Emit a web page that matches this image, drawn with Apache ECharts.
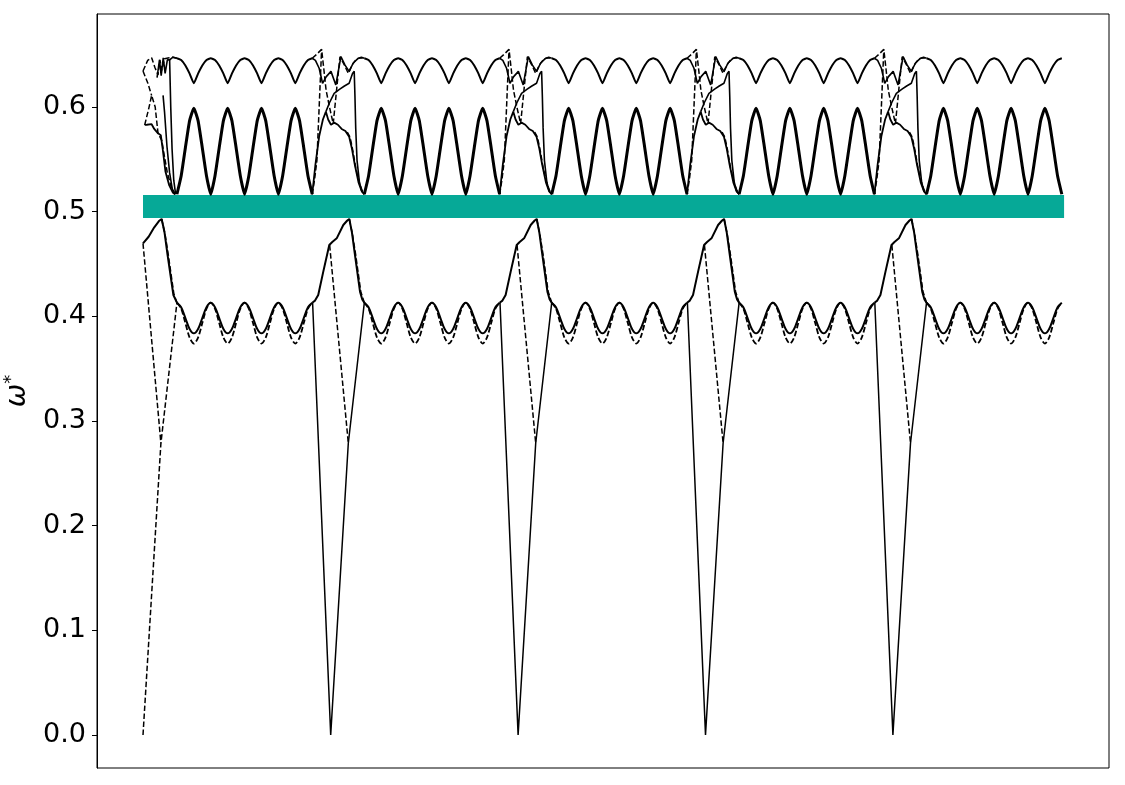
<!DOCTYPE html>
<html>
<head>
<meta charset="utf-8">
<script src="https://cdn.jsdelivr.net/npm/echarts@6/dist/echarts.min.js"></script>
<style>
html, body { margin: 0; padding: 0; background: #fff; }
#chart { width: 1125px; height: 785px; }
</style>
</head>
<body>
<div id="chart"></div>
<script>
// y ticks
var tickValues = [0.0, 0.1, 0.2, 0.3, 0.4, 0.5, 0.6];

// period starts (x in units of one cell)
var periods = [0, 1, 2, 3, 4];
var jumpPeriods = [1, 2, 3, 4];

// oscillating part of every cell, sampled every 1/8 ripple from u = 0.181
var oscStart = 0.181;
var oscStep = 0.02256;
var upperWave = [0.6465, 0.6448, 0.6396, 0.6318, 0.6226, 0.6318, 0.6396, 0.6448,
	0.6465, 0.6448, 0.6396, 0.6318, 0.6226, 0.6318, 0.6396, 0.6448,
	0.6465, 0.6448, 0.6396, 0.6318, 0.6226, 0.6318, 0.6396, 0.6448,
	0.6465, 0.6448, 0.6396, 0.6318, 0.6226, 0.6318, 0.6396, 0.6448,
	0.6465];
var middleWave = [0.5166, 0.5340, 0.5610, 0.5870, 0.5987, 0.5870, 0.5610, 0.5340,
	0.5166, 0.5340, 0.5610, 0.5870, 0.5987, 0.5870, 0.5610, 0.5340,
	0.5166, 0.5340, 0.5610, 0.5870, 0.5987, 0.5870, 0.5610, 0.5340,
	0.5166, 0.5340, 0.5610, 0.5870, 0.5987, 0.5870, 0.5610, 0.5340,
	0.5166];
var lowerSolidWave = [0.4130, 0.4087, 0.3983, 0.3879, 0.3837, 0.3879, 0.3983, 0.4087,
	0.4130, 0.4087, 0.3983, 0.3879, 0.3837, 0.3879, 0.3983, 0.4087,
	0.4130, 0.4087, 0.3983, 0.3879, 0.3837, 0.3879, 0.3983, 0.4087,
	0.4130, 0.4087, 0.3983, 0.3879, 0.3837, 0.3879, 0.3983, 0.4087,
	0.4130];
var lowerDashWave = [0.4130, 0.4073, 0.3935, 0.3797, 0.3740, 0.3797, 0.3935, 0.4073,
	0.4130, 0.4073, 0.3935, 0.3797, 0.3740, 0.3797, 0.3935, 0.4073,
	0.4130, 0.4073, 0.3935, 0.3797, 0.3740, 0.3797, 0.3935, 0.4073,
	0.4130, 0.4073, 0.3935, 0.3797, 0.3740, 0.3797, 0.3935, 0.4073,
	0.4130];

// cell boundary (cells 2..5), [u, omega] relative to the cell start
var jumpUpperSolid = [[-0.097, 0.6465], [-0.08, 0.6445], [-0.06, 0.637], [-0.042, 0.6226], [-0.022, 0.629],
	[0.003, 0.634], [0.029, 0.621], [0.056, 0.648], [0.078, 0.640], [0.100, 0.634], [0.122, 0.642],
	[0.145, 0.646], [0.165, 0.6475], [0.181, 0.6465]];
var jumpMiddleSolid = [[-0.097, 0.5166], [-0.08, 0.545], [-0.06, 0.572], [-0.04, 0.588], [-0.024, 0.5955],
	[-0.012, 0.588], [0.003, 0.583], [0.02, 0.585], [0.04, 0.583], [0.06, 0.579], [0.08, 0.577],
	[0.10, 0.5716], [0.115, 0.560], [0.13, 0.545], [0.15, 0.528], [0.166, 0.520], [0.181, 0.5166]];
var jumpCrossSolid = [[-0.024, 0.5955], [-0.005, 0.604], [0.02, 0.613], [0.05, 0.617], [0.075, 0.620],
	[0.10, 0.6226], [0.118, 0.632], [0.127, 0.634], [0.131, 0.610], [0.135, 0.580], [0.142, 0.549],
	[0.155, 0.528], [0.168, 0.519], [0.181, 0.5166]];
var jumpRiseDash = [[-0.097, 0.5166], [-0.085, 0.530], [-0.072, 0.549], [-0.047, 0.655]];
var jumpUpperDash = [[-0.097, 0.6465], [-0.075, 0.650], [-0.047, 0.655], [-0.035, 0.636], [-0.023, 0.616],
	[-0.005, 0.600], [0.015, 0.584], [0.035, 0.620], [0.051, 0.648], [0.075, 0.640], [0.0955, 0.632],
	[0.115, 0.640], [0.14, 0.646], [0.16, 0.647], [0.181, 0.6465]];
var jumpMiddleDash = [[0.09, 0.576], [0.105, 0.571], [0.12, 0.558], [0.135, 0.542], [0.155, 0.527],
	[0.17, 0.520], [0.181, 0.5166]];
var jumpSpikeSolid = [[-0.095, 0.413], [0.0016, 0.0], [0.0955, 0.2787], [0.181, 0.413]];
var jumpHumpSolid = [[-0.097, 0.413], [-0.082, 0.415], [-0.065, 0.4204], [-0.038, 0.4427], [-0.006, 0.4681],
	[0.01, 0.471], [0.0336, 0.4745], [0.0688, 0.4872], [0.09, 0.4915], [0.1009, 0.493], [0.115, 0.480],
	[0.131, 0.4586], [0.158, 0.4236], [0.17, 0.416], [0.181, 0.413]];
var jumpFallDash = [[-0.004, 0.468], [0.0955, 0.2787]];
var jumpHumpDash = [[0.1009, 0.493], [0.118, 0.478], [0.135, 0.4586], [0.162, 0.4236], [0.181, 0.413]];

// first cell start
var startZeroDash = [[0.0, 0.0], [0.0955, 0.2787], [0.181, 0.413]];
var startFallDash = [[0.0, 0.4697], [0.0955, 0.2787]];
var startHumpSolid = [[0.0, 0.4697], [0.03, 0.476], [0.06, 0.485], [0.085, 0.491], [0.0995, 0.493],
	[0.115, 0.480], [0.131, 0.4586], [0.162, 0.4204], [0.181, 0.413]];
var startHumpDash = [[0.0995, 0.493], [0.118, 0.478], [0.135, 0.4586], [0.165, 0.421], [0.181, 0.413]];
var startMiddleSolid = [[0.009, 0.5828], [0.02, 0.583], [0.046, 0.5835], [0.06, 0.579], [0.08, 0.5748],
	[0.095, 0.573], [0.105, 0.560], [0.12, 0.538], [0.14, 0.525], [0.16, 0.518], [0.172, 0.5166]];
var startMiddleDash = [[0.009, 0.5828], [0.03, 0.598], [0.046, 0.611], [0.065, 0.600], [0.08, 0.575],
	[0.10, 0.568], [0.115, 0.552], [0.13, 0.537], [0.15, 0.524], [0.172, 0.5166]];
var startUpperDash = [[0.0, 0.6343], [0.025, 0.6445], [0.046, 0.647], [0.063, 0.638], [0.08, 0.6306],
	[0.09, 0.645], [0.10, 0.635], [0.115, 0.646], [0.14, 0.647], [0.16, 0.6475], [0.181, 0.6465]];
var startDiamondDash = [[0.0, 0.6343], [0.026, 0.6226], [0.046, 0.611]];
var startUpperSolid = [[0.075, 0.628], [0.088, 0.645], [0.097, 0.630], [0.108, 0.647], [0.118, 0.632],
	[0.13, 0.645], [0.142, 0.645], [0.16, 0.6475], [0.181, 0.6465]];
var startSteepSolid = [[0.107, 0.611], [0.115, 0.595], [0.128, 0.562], [0.142, 0.537], [0.156, 0.522],
	[0.169, 0.5166]];
var startDropSolid = [[0.142, 0.645], [0.148, 0.600], [0.155, 0.560], [0.164, 0.530], [0.174, 0.5166]];

// teal band
var bandLevel = 0.5048;
var bandFrom = 0;
var bandTo = 4.915;

function shifted(points, k) {
	return points.map(function (p) { return [p[0] + k, p[1]]; });
}
function waveData(values, k) {
	return values.map(function (v, i) { return [k + oscStart + i * oscStep, v]; });
}
function line(data, width, dashed, smooth) {
	return {
		type: 'line',
		data: data,
		symbol: 'none',
		smooth: smooth || false,
		silent: true,
		lineStyle: { color: '#000', width: width, type: dashed ? [5.5, 2.5] : 'solid' }
	};
}

var series = [{
	type: 'line',
	data: [[bandFrom, bandLevel], [bandTo, bandLevel]],
	symbol: 'none',
	silent: true,
	lineStyle: { color: '#06a997', width: 23, cap: 'butt' }
}];

periods.forEach(function (k) {
	series.push(line(waveData(lowerDashWave, k), 1.8, true, 0.3));
	series.push(line(waveData(lowerSolidWave, k), 2, false, 0.3));
	series.push(line(waveData(middleWave, k), 3, false, 0.15));
	series.push(line(waveData(upperWave, k), 2, false, 0.15));
});

jumpPeriods.forEach(function (k) {
	series.push(line(shifted(jumpUpperSolid, k), 1.6, false));
	series.push(line(shifted(jumpMiddleSolid, k), 1.8, false));
	series.push(line(shifted(jumpCrossSolid, k), 1.6, false));
	series.push(line(shifted(jumpRiseDash, k), 1.5, true));
	series.push(line(shifted(jumpUpperDash, k), 1.5, true));
	series.push(line(shifted(jumpMiddleDash, k), 1.5, true));
	series.push(line(shifted(jumpSpikeSolid, k), 1.5, false));
	series.push(line(shifted(jumpHumpSolid, k), 2, false));
	series.push(line(shifted(jumpFallDash, k), 1.5, true));
	series.push(line(shifted(jumpHumpDash, k), 1.5, true));
});

series.push(line(startZeroDash, 1.5, true));
series.push(line(startFallDash, 1.5, true));
series.push(line(startHumpSolid, 2, false));
series.push(line(startHumpDash, 1.5, true));
series.push(line(startMiddleSolid, 1.8, false));
series.push(line(startMiddleDash, 1.5, true));
series.push(line(startUpperDash, 1.5, true));
series.push(line(startDiamondDash, 1.5, true));
series.push(line(startUpperSolid, 1.6, false));
series.push(line(startSteepSolid, 1.6, false));
series.push(line(startDropSolid, 1.6, false));

var chart = echarts.init(document.getElementById('chart'));
var option = {
	animation: false,
	backgroundColor: '#fff',
	grid: {
		left: 97, right: 16, top: 14, bottom: 17,
		show: true, borderColor: '#000', borderWidth: 1,
		outerBoundsMode: 'none'
	},
	xAxis: {
		type: 'value',
		min: -0.2455,
		max: 5.1547,
		axisLine: { show: false },
		axisTick: { show: false },
		axisLabel: { show: false },
		splitLine: { show: false }
	},
	yAxis: {
		type: 'value',
		min: -0.0315,
		max: 0.6888,
		axisLine: { show: true, onZero: false, lineStyle: { color: '#000', width: 1 } },
		axisTick: { show: true, length: 5, customValues: tickValues, lineStyle: { color: '#000', width: 1 } },
		axisLabel: {
			customValues: tickValues,
			formatter: function (v) { return v.toFixed(1); },
			fontSize: 27, color: '#000', fontFamily: 'DejaVu Sans', margin: 11
		},
		splitLine: { show: false },
		name: '{w|ω}{s|*}',
		nameLocation: 'middle',
		nameRotate: 90,
		nameGap: 62,
		nameTextStyle: {
			rich: {
				w: { fontSize: 28, fontStyle: 'italic', fontFamily: 'DejaVu Sans', color: '#000' },
				s: { fontSize: 18, fontFamily: 'DejaVu Sans', color: '#000', verticalAlign: 'bottom', padding: [0, 0, 14, 0] }
			}
		}
	},
	series: series
};
chart.setOption(option);
</script>
</body>
</html>
